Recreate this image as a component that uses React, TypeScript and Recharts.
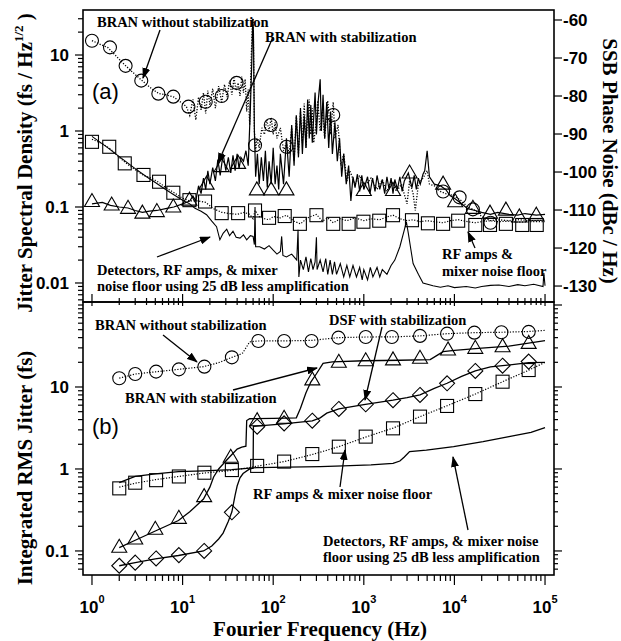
import { LineChart, Line, XAxis, YAxis } from 'recharts';

type Pt = [number, number];

// ---- panel (a): jitter spectral density (fs / Hz^1/2)
const branFreeA: Pt[] = [
  [1, 15.5], [1.2, 14], [1.5, 12.5], [1.8, 10], [2.2, 7.8], [2.7, 6.2], [3.3, 5], [4, 4.1],
  [4.7, 3.5], [5.5, 3.1], [6.5, 3.0], [8, 2.8], [9.5, 2.4], [11, 2.1], [12, 1.6], [13, 2.6],
  [14, 1.4], [15, 2.8], [16, 1.9], [17, 3.2], [18, 1.7], [19, 3.4], [20, 2.2], [21.5, 3.6],
  [23, 2.0], [25, 3.9], [27, 2.4], [29, 4.1], [31, 2.8], [33, 4.6], [35, 3.0], [37, 5.0],
  [39, 3.4], [41, 4.3], [43, 2.9], [45, 5.2], [47, 3.2], [49, 4.8], [51, 1.8], [53, 3.5],
  [55, 1.2], [57, 8], [59, 28], [60, 30], [61, 8], [62, 1.0], [64, 0.55], [66, 0.8], [70, 0.6],
  [75, 1.1], [80, 0.9], [85, 1.4], [90, 1.0], [95, 1.5], [100, 0.9], [105, 1.3], [110, 0.8],
  [120, 1.1], [130, 0.55], [140, 0.7], [150, 0.5], [160, 1.1], [170, 0.4], [180, 1.6], [190, 0.5],
  [200, 1.8], [210, 0.7], [220, 2.3], [230, 0.6], [240, 1.5], [250, 2.6], [260, 0.9], [270, 2.0],
  [280, 0.7], [300, 1.4], [310, 2.5], [330, 1.0], [350, 1.9], [370, 0.8], [400, 2.5], [430, 0.9],
  [460, 2.4], [480, 0.8], [520, 1.2], [560, 0.35], [600, 0.5], [650, 0.22], [700, 0.3], [800, 0.2],
  [900, 0.26], [1000, 0.18], [1200, 0.24], [1400, 0.17], [1600, 0.23], [1800, 0.16], [2000, 0.22],
  [2300, 0.16], [2600, 0.2], [3000, 0.11], [3200, 0.22], [3500, 0.15], [3700, 0.09], [4000, 0.2],
  [4500, 0.24], [5000, 0.3], [5300, 0.2], [6000, 0.19], [7000, 0.16], [8000, 0.15], [10000, 0.14],
  [12000, 0.12], [14000, 0.1], [17000, 0.09], [20000, 0.075], [25000, 0.066], [30000, 0.068],
  [40000, 0.066], [50000, 0.068], [70000, 0.066], [100000, 0.067],
];
const branFreeMarksA: Pt[] = [
  [1, 15.4], [1.58, 12.6], [2.35, 7.2], [3.5, 4.6], [5.4, 3.1], [7.9, 2.83], [11.6, 2.09],
  [18, 2.43], [27, 2.89], [39.5, 4.3], [63, 0.65], [94, 1.2], [140, 0.62], [460, 1.62],
  [7500, 0.16], [11400, 0.134], [16000, 0.093], [25000, 0.062],
];

const branLockedA: Pt[] = [
  [1, 0.11], [1.3, 0.115], [1.6, 0.105], [2, 0.1], [2.5, 0.097], [3, 0.09], [3.6, 0.085],
  [4.3, 0.088], [5.2, 0.09], [6.5, 0.095], [8, 0.1], [10, 0.11], [12, 0.12], [13, 0.14],
  [14, 0.12], [15, 0.19], [16, 0.15], [17, 0.24], [18, 0.17], [19, 0.3], [20, 0.2], [21.5, 0.33],
  [23, 0.22], [24.5, 0.42], [26, 0.26], [28, 0.5], [30, 0.3], [32, 0.45], [34, 0.28], [36, 0.48],
  [38, 0.3], [40, 0.5], [42, 0.32], [44, 0.45], [47, 0.4], [50, 0.55], [53, 0.35], [56, 2],
  [58, 8], [59.5, 30], [60.5, 20], [62, 1], [64, 0.25], [67, 0.5], [70, 0.2], [74, 0.45],
  [78, 0.22], [82, 0.55], [86, 0.18], [90, 0.4], [95, 0.2], [100, 0.6], [105, 0.2], [110, 0.35],
  [115, 0.17], [120, 0.5], [130, 0.2], [140, 0.8], [150, 0.25], [160, 1.2], [170, 0.35],
  [180, 1.6], [190, 0.45], [200, 2.0], [210, 0.5], [220, 1.6], [230, 0.6], [240, 2.6], [250, 0.8],
  [260, 2.2], [270, 0.7], [290, 3.2], [300, 0.9], [315, 2.6], [330, 4.8], [340, 1.0], [355, 3.0],
  [370, 0.8], [390, 2.4], [410, 0.6], [430, 1.8], [450, 0.5], [480, 1.3], [510, 0.4], [540, 0.8],
  [570, 0.25], [600, 0.5], [640, 0.2], [680, 0.35], [720, 0.12], [760, 0.25], [800, 0.18],
  [850, 0.27], [900, 0.16], [950, 0.26], [1000, 0.17], [1100, 0.25], [1170, 0.15], [1250, 0.24],
  [1330, 0.16], [1400, 0.26], [1500, 0.17], [1600, 0.23], [1700, 0.15], [1800, 0.25],
  [1900, 0.17], [2000, 0.24], [2100, 0.15], [2200, 0.23], [2350, 0.17], [2500, 0.25],
  [2650, 0.16], [2800, 0.22], [3100, 0.28], [3400, 0.18], [3600, 0.26], [3800, 0.17],
  [4000, 0.24], [4200, 0.2], [4500, 0.27], [4700, 0.3], [5000, 0.55], [5300, 0.25], [6000, 0.2],
  [7000, 0.19], [8000, 0.17], [9000, 0.14], [10000, 0.13], [12000, 0.11], [14000, 0.095],
  [17000, 0.09], [20000, 0.085], [25000, 0.08], [30000, 0.085], [40000, 0.08], [50000, 0.078],
  [60000, 0.082], [80000, 0.078], [100000, 0.08],
];
const branLockedMarksA: Pt[] = [
  [1, 0.118], [1.65, 0.106], [2.5, 0.096], [3.6, 0.083], [5.2, 0.087], [7.9, 0.1], [11.9, 0.123],
  [18.4, 0.2], [27, 0.34], [41, 0.375], [66, 0.168], [95, 0.168], [140, 0.168], [1000, 0.165],
  [2100, 0.165], [3200, 0.28], [7500, 0.2], [10200, 0.117], [16000, 0.096], [24700, 0.083],
  [37000, 0.091], [52000, 0.074], [80000, 0.078],
];

const rfFloorA: Pt[] = [
  [1, 0.78], [1.3, 0.68], [1.6, 0.58], [2, 0.45], [2.5, 0.36], [3, 0.31], [3.7, 0.26], [4.5, 0.24],
  [5.5, 0.21], [6.5, 0.18], [8, 0.155], [10, 0.13], [12, 0.12], [15, 0.12], [18, 0.115],
  [22, 0.095], [27, 0.085], [33, 0.082], [40, 0.08], [48, 0.085], [55, 0.08], [60, 0.07],
  [63, 0.09], [70, 0.075], [80, 0.07], [90, 0.068], [100, 0.075], [120, 0.072], [140, 0.078],
  [170, 0.065], [200, 0.06], [240, 0.072], [300, 0.08], [350, 0.065], [400, 0.072], [460, 0.062],
  [550, 0.07], [650, 0.066], [800, 0.072], [1000, 0.066], [1200, 0.07], [1500, 0.068],
  [1800, 0.074], [2100, 0.078], [2500, 0.07], [3000, 0.066], [3500, 0.068], [4200, 0.064],
  [5000, 0.066], [6000, 0.064], [7500, 0.062], [9000, 0.066], [11000, 0.068], [14000, 0.064],
  [17000, 0.062], [20000, 0.064], [25000, 0.066], [30000, 0.064], [40000, 0.065], [50000, 0.063],
  [70000, 0.064], [100000, 0.064],
];
const rfFloorMarksA: Pt[] = [
  [1, 0.72], [1.55, 0.62], [2.3, 0.375], [3.7, 0.264], [5.5, 0.215], [7.9, 0.154], [11.9, 0.123],
  [17.7, 0.118], [27, 0.083], [41, 0.083], [63, 0.09], [90, 0.072], [134, 0.076], [197, 0.06],
  [300, 0.078], [460, 0.06], [680, 0.06], [990, 0.064], [1480, 0.066], [2100, 0.078],
  [3400, 0.067], [5100, 0.061], [7500, 0.06], [11000, 0.066], [17000, 0.058], [24700, 0.058],
  [37000, 0.06], [56000, 0.058], [81000, 0.058],
];

const detFloorA: Pt[] = [
  [1, 0.85], [1.5, 0.6], [2, 0.46], [3, 0.32], [4, 0.25], [5, 0.21], [6.5, 0.17], [8, 0.145],
  [10, 0.123], [12, 0.11], [13.7, 0.096], [16, 0.088], [18.4, 0.079], [21, 0.065], [23.7, 0.055],
  [25.8, 0.037], [28, 0.045], [30.7, 0.051], [33, 0.042], [36, 0.048], [39, 0.04], [43, 0.039],
  [47, 0.043], [51, 0.037], [56, 0.042], [60, 0.041], [62, 0.032], [63, 0.1], [64, 0.03],
  [71, 0.03], [80, 0.028], [90, 0.031], [100, 0.027], [110, 0.024], [120, 0.026], [124, 0.041],
  [128, 0.023], [140, 0.022], [160, 0.024], [182, 0.02], [188, 0.05], [192, 0.012], [200, 0.02],
  [215, 0.015], [230, 0.022], [245, 0.014], [260, 0.021], [275, 0.015], [290, 0.019], [300, 0.04],
  [305, 0.015], [330, 0.02], [355, 0.014], [380, 0.021], [400, 0.013], [425, 0.02], [450, 0.013],
  [475, 0.019], [500, 0.013], [550, 0.018], [600, 0.012], [650, 0.017], [700, 0.012],
  [760, 0.017], [830, 0.012], [900, 0.016], [960, 0.011], [1000, 0.015], [1100, 0.011],
  [1180, 0.016], [1260, 0.012], [1400, 0.016], [1500, 0.012], [1600, 0.015], [1800, 0.013],
  [2000, 0.017], [2200, 0.02], [2500, 0.03], [2800, 0.05], [2950, 0.064], [3100, 0.045],
  [3300, 0.028], [3500, 0.018], [4000, 0.013], [4500, 0.01], [5800, 0.0092], [7000, 0.0088],
  [8500, 0.0092], [10000, 0.0087], [13500, 0.009], [17000, 0.0086], [20000, 0.009],
  [25000, 0.0093], [31000, 0.0094], [40000, 0.009], [50000, 0.0095], [60000, 0.0092],
  [75000, 0.0096], [95000, 0.009], [97000, 0.0135], [100000, 0.0092],
];

// ---- panel (b): integrated rms jitter (fs)
const branFreeB: Pt[] = [
  [2, 12.8], [3, 14.4], [5, 15.3], [9, 16.4], [17, 17.7], [25, 19.8], [35, 23], [43, 25],
  [46, 26], [51, 31], [55, 35.5], [68, 36.4], [130, 36.5], [265, 37], [525, 40], [1050, 40.7],
  [2040, 40.8], [4170, 42], [8300, 44.7], [16600, 46], [33000, 46.5], [66000, 47.5], [100000, 49],
];
const branFreeMarksB: Pt[] = [
  [2, 12.8], [3, 14.4], [5.1, 15.4], [9.1, 16.4], [17.4, 17.7], [35, 23], [68.5, 36.4],
  [132, 36.4], [265, 36.4], [525, 40], [1050, 40.7], [2040, 40.7], [4170, 42], [8300, 44.7],
  [16600, 46], [33000, 46.5], [66000, 47],
];

const branLockedB: Pt[] = [
  [2, 0.11], [3, 0.135], [5, 0.175], [9, 0.235], [12, 0.3], [17, 0.43], [20, 0.6], [22, 0.8],
  [25, 1.0], [30, 1.25], [35, 1.5], [40, 1.75], [45, 1.85], [50, 1.9], [51, 3.9], [55, 4.1],
  [100, 4.15], [180, 4.2], [200, 5.5], [230, 8.5], [260, 11.5], [300, 14.5], [355, 19.4],
  [450, 20.2], [1000, 20.9], [2500, 21.2], [5400, 21.6], [6500, 24.5], [7500, 27], [10000, 28],
  [20000, 29.8], [40000, 31.5], [100000, 36.7],
];
const branLockedMarksB: Pt[] = [
  [2, 0.111], [3, 0.14], [5, 0.184], [9.1, 0.25], [17.3, 0.46], [34, 1.39], [66.5, 3.88],
  [132, 4.15], [270, 12.2], [530, 20], [1050, 20.9], [2100, 21.4], [4170, 22.4], [8500, 28.3],
  [17000, 29.6], [34000, 31], [66000, 34],
];

const dsfB: Pt[] = [
  [2, 0.066], [3, 0.072], [5, 0.08], [9, 0.088], [17, 0.1], [21, 0.115], [25, 0.14], [28, 0.165],
  [32, 0.23], [35, 0.3], [38, 0.48], [40, 0.62], [43, 0.78], [46.5, 0.88], [55, 1.0], [60, 1.02],
  [60.5, 3.3], [70, 3.35], [130, 3.55], [270, 3.85], [330, 4.2], [390, 4.8], [530, 5.4],
  [1000, 6.1], [2100, 6.9], [3000, 7.4], [4170, 8], [6000, 9.6], [8300, 11.1], [12000, 13.5],
  [17000, 15.7], [25000, 17.6], [34000, 18.2], [66000, 19.8], [100000, 20],
];
const dsfMarksB: Pt[] = [
  [2, 0.066], [3, 0.072], [5.1, 0.081], [9.1, 0.089], [17.3, 0.1], [35, 0.296], [66.5, 3.28],
  [132, 3.6], [270, 3.88], [530, 5.4], [1050, 6.15], [2100, 6.9], [4170, 8.0], [8300, 11.1],
  [17000, 15.7], [34000, 18.2], [66000, 20.4],
];

const rfFloorB: Pt[] = [
  [2, 0.6], [3, 0.67], [5, 0.74], [9, 0.81], [17, 0.89], [35, 0.96], [66, 1.08], [132, 1.23],
  [270, 1.5], [530, 1.87], [1050, 2.45], [2100, 3.15], [4170, 4.35], [8300, 5.9], [17000, 8.2],
  [34000, 11.6], [66000, 16], [100000, 20],
];
const rfFloorMarksB: Pt[] = [
  [2, 0.58], [3, 0.68], [5.1, 0.73], [9.1, 0.81], [17.4, 0.9], [35, 0.97], [66.5, 1.09],
  [132, 1.23], [270, 1.52], [530, 1.87], [1050, 2.48], [2100, 3.13], [4170, 4.35], [8300, 5.87],
  [17000, 8.2], [34000, 11.6], [66000, 16.1],
];

const detFloorB: Pt[] = [
  [2, 0.68], [3, 0.81], [5, 0.87], [9, 0.93], [17, 0.95], [35, 0.98], [66, 1.04], [330, 1.07],
  [590, 1.09], [1200, 1.12], [2100, 1.17], [2500, 1.25], [2800, 1.4], [3200, 1.63], [4900, 1.7],
  [9800, 1.87], [20700, 2.15], [40000, 2.48], [70000, 2.8], [100000, 3.19],
];

// ---- axes
const xDecades = [1, 10, 100, 1000, 10000, 100000];
const xExponents = ['0', '1', '2', '3', '4', '5'];
const yDecadesA = [0.01, 0.1, 1, 10];
const yLabelsA = ['0.01', '0.1', '1', '10'];
const dbTicks = [-60, -70, -80, -90, -100, -110, -120, -130];
const yDecadesB = [0.1, 1, 10];
const yLabelsB = ['0.1', '1', '10'];
const mantissas = [2, 3, 4, 5, 6, 7, 8, 9];

const X_DOMAIN: [number, number] = [0.796, 125600];
const YA_DOMAIN: [number, number] = [0.00562, 39.1];
const DB_DOMAIN: [number, number] = [-134.2, -57.37];
const YB_DOMAIN: [number, number] = [0.0509, 108.8];

const logTicks = (decades: number[], lo: number, hi: number) => {
  const out: number[] = [];
  decades.forEach((d) => {
    out.push(d);
    mantissas.forEach((m) => out.push(m * d));
  });
  return out.filter((t) => t >= lo && t <= hi);
};
const xTicks = logTicks(xDecades, X_DOMAIN[0], X_DOMAIN[1]);
const yTicksA = logTicks([0.001, ...yDecadesA], YA_DOMAIN[0], YA_DOMAIN[1]);
const yTicksB = logTicks([0.01, ...yDecadesB, 100], YB_DOMAIN[0], YB_DOMAIN[1]);

const toRows = (pts: Pt[]) => pts.map(([f, v]) => ({ f, v }));
const findMajor = (v: number, majors: number[]) =>
  majors.findIndex((m) => Math.abs(v / m - 1) < 1e-6);

const SANS = 'Liberation Sans, Arial, sans-serif';
const SERIF = 'Liberation Serif, Times New Roman, serif';

// tick renderers: tickSize/tickMargin are 0, so x/y sit on the plot edge
const XTickA = ({ x, y, payload }: any) => {
  const major = findMajor(payload.value, xDecades) >= 0;
  return (
    <line x1={x} x2={x} y1={y - (major ? 8 : 4)} y2={y + (major ? 4 : 3)} stroke="#000" strokeWidth={1.2} />
  );
};
const XTickB = ({ x, y, payload }: any) => {
  const i = findMajor(payload.value, xDecades);
  return (
    <g>
      <line x1={x} x2={x} y1={y} y2={y + (i >= 0 ? 10 : 6)} stroke="#000" strokeWidth={1.2} />
      {i >= 0 && (
        <text x={x} y={y + 38} textAnchor="middle" fontFamily={SANS} fontWeight="bold" fontSize={17}>
          10<tspan dy={-10} fontSize={11}>{xExponents[i]}</tspan>
        </text>
      )}
    </g>
  );
};
const makeLeftTick = (majors: number[], labels: string[]) => ({ x, y, payload }: any) => {
  const i = findMajor(payload.value, majors);
  return (
    <g>
      <line x1={x - (i >= 0 ? 8 : 5)} x2={x} y1={y} y2={y} stroke="#000" strokeWidth={1.2} />
      {i >= 0 && (
        <text x={x - 14} y={y + 6} textAnchor="end" fontFamily={SANS} fontWeight="bold" fontSize={17}>
          {labels[i]}
        </text>
      )}
    </g>
  );
};
const YTickA = makeLeftTick(yDecadesA, yLabelsA);
const YTickB = makeLeftTick(yDecadesB, yLabelsB);
const DbTick = ({ x, y, payload }: any) => (
  <g>
    <line x1={x} x2={x + 8} y1={y} y2={y} stroke="#000" strokeWidth={1.2} />
    <text x={x + 9} y={y + 6} textAnchor="start" fontFamily={SANS} fontWeight="bold" fontSize={17}>
      {payload.value}
    </text>
  </g>
);
const RightTickB = ({ x, y, payload }: any) => {
  const major = findMajor(payload.value, [0.1, 1, 10, 100]) >= 0;
  return <line x1={x} x2={x + (major ? 8 : 4)} y1={y} y2={y} stroke="#000" strokeWidth={1.2} />;
};

// open markers
const marker = (shape: 'circle' | 'square' | 'triangle' | 'diamond') => (p: any) => {
  const { cx, cy, index } = p;
  const common = { fill: 'none', stroke: '#000', strokeWidth: 1.1 };
  if (cx == null || cy == null) return <g key={index} />;
  if (shape === 'circle') return <circle key={index} cx={cx} cy={cy} r={6.5} {...common} />;
  if (shape === 'square') return <rect key={index} x={cx - 6.5} y={cy - 6.5} width={13} height={13} {...common} />;
  if (shape === 'triangle')
    return <polygon key={index} points={`${cx},${cy - 8} ${cx - 7.5},${cy + 5} ${cx + 7.5},${cy + 5}`} {...common} />;
  return <polygon key={index} points={`${cx},${cy - 7.5} ${cx + 7.5},${cy} ${cx},${cy + 7.5} ${cx - 7.5},${cy}`} {...common} />;
};

const trace = (key: string, pts: Pt[], dotted: boolean, width = 1, yAxisId = 'l') => (
  <Line
    key={key}
    yAxisId={yAxisId}
    data={toRows(pts)}
    dataKey="v"
    type="linear"
    stroke="#000"
    strokeWidth={width}
    strokeDasharray={dotted ? '1.2 1.6' : undefined}
    dot={false}
    activeDot={false}
    isAnimationActive={false}
  />
);
const marks = (key: string, pts: Pt[], shape: 'circle' | 'square' | 'triangle' | 'diamond') => (
  <Line
    key={key}
    yAxisId="l"
    data={toRows(pts)}
    dataKey="v"
    stroke="none"
    dot={marker(shape)}
    activeDot={false}
    isAnimationActive={false}
  />
);

const Arrow = ({ x1, y1, x2, y2 }: { x1: number; y1: number; x2: number; y2: number }) => (
  <line x1={x1} y1={y1} x2={x2} y2={y2} stroke="#000" strokeWidth={1.3} markerEnd="url(#head)" />
);

const Note = ({ x, y, children }: any) => (
  <text x={x} y={y} fontFamily={SERIF} fontWeight="bold" fontSize={14.5}>
    {children}
  </text>
);

const Overlay = () => (
  <svg width={621} height={641} style={{ position: 'absolute', left: 0, top: 0, pointerEvents: 'none' }}>
    <defs>
      <marker id="head" markerUnits="userSpaceOnUse" markerWidth={11} markerHeight={8} refX={10} refY={4} orient="auto">
        <path d="M0,0 L11,4 L0,8 z" fill="#000" />
      </marker>
    </defs>
    <rect x={83} y={10} width={471} height={292} fill="none" stroke="#000" strokeWidth={1.6} />
    <rect x={83} y={302} width={471} height={273} fill="none" stroke="#000" strokeWidth={1.6} />

    <text transform="translate(32,163) rotate(-90)" textAnchor="middle" fontFamily={SERIF} fontWeight="bold" fontSize={21}>
      Jitter Spectral Density (fs / Hz<tspan dy={-9} fontSize={13}>1/2</tspan>
      <tspan dy={9}> )</tspan>
    </text>
    <text transform="translate(32,468) rotate(-90)" textAnchor="middle" fontFamily={SERIF} fontWeight="bold" fontSize={21}>
      Integrated RMS Jitter (fs)
    </text>
    <text transform="translate(603,161) rotate(90)" textAnchor="middle" fontFamily={SERIF} fontWeight="bold" fontSize={21}>
      SSB Phase Noise (dBc / Hz)
    </text>
    <text x={320} y={636} textAnchor="middle" fontFamily={SERIF} fontWeight="bold" fontSize={21}>
      Fourier Frequency (Hz)
    </text>

    <text x={92} y={99} fontFamily={SANS} fontSize={22}>(a)</text>
    <Note x={97} y={27}>BRAN without stabilization</Note>
    <Note x={265} y={42}>BRAN with stabilization</Note>
    <Note x={97} y={275}>Detectors, RF amps, &amp; mixer</Note>
    <Note x={97} y={291}>noise floor using 25 dB less amplification</Note>
    <Note x={442} y={259}>RF amps &amp;</Note>
    <Note x={442} y={276}>mixer noise floor</Note>
    <Arrow x1={160} y1={30} x2={143} y2={78} />
    <Arrow x1={273} y1={37} x2={218} y2={163} />
    <Arrow x1={157} y1={257} x2={210} y2={237} />
    <Arrow x1={475} y1={248} x2={468} y2={232} />

    <text x={92} y={434} fontFamily={SANS} fontSize={22}>(b)</text>
    <Note x={95} y={330}>BRAN without stabilization</Note>
    <Note x={125} y={403}>BRAN with stabilization</Note>
    <Note x={329} y={325}>DSF with stabilization</Note>
    <Note x={253} y={499}>RF amps &amp; mixer noise floor</Note>
    <Note x={323} y={546}>Detectors, RF amps, &amp; mixer noise</Note>
    <Note x={323} y={562}>floor using 25 dB less amplification</Note>
    <Arrow x1={163} y1={335} x2={197} y2={362} />
    <Arrow x1={233} y1={390} x2={317} y2={368} />
    <Arrow x1={382} y1={327} x2={365} y2={400} />
    <Arrow x1={340} y1={487} x2={345} y2={450} />
    <Arrow x1={468} y1={530} x2={453} y2={457} />
  </svg>
);

export default function App() {
  return (
    <div style={{ position: 'absolute', left: 0, top: 0, width: 621, height: 641, background: '#fff' }}>
      <div style={{ position: 'absolute', left: 0, top: 0 }}>
        <LineChart width={621} height={310} margin={{ top: 10, right: 0, bottom: 0, left: 0 }}>
          <XAxis
            dataKey="f"
            type="number"
            scale="log"
            domain={X_DOMAIN}
            allowDataOverflow
            ticks={xTicks}
            interval={0}
            height={8}
            tickSize={0}
            tickMargin={0}
            axisLine={false}
            tickLine={false}
            tick={<XTickA />}
          />
          <YAxis
            yAxisId="l"
            type="number"
            scale="log"
            domain={YA_DOMAIN}
            allowDataOverflow
            ticks={yTicksA}
            interval={0}
            width={83}
            tickSize={0}
            tickMargin={0}
            axisLine={false}
            tickLine={false}
            tick={<YTickA />}
          />
          <YAxis
            yAxisId="db"
            orientation="right"
            type="number"
            domain={DB_DOMAIN}
            allowDataOverflow
            ticks={dbTicks}
            interval={0}
            width={67}
            tickSize={0}
            tickMargin={0}
            axisLine={false}
            tickLine={false}
            tick={<DbTick />}
          />
          {trace('detA', detFloorA, false, 1.1)}
          {trace('rfA', rfFloorA, true, 1.2)}
          {trace('lockA', branLockedA, false, 1.2)}
          {trace('freeA', branFreeA, true, 1.3)}
          {marks('rfAm', rfFloorMarksA, 'square')}
          {marks('lockAm', branLockedMarksA, 'triangle')}
          {marks('freeAm', branFreeMarksA, 'circle')}
        </LineChart>
      </div>
      <div style={{ position: 'absolute', left: 0, top: 302 }}>
        <LineChart width={621} height={339} margin={{ top: 0, right: 0, bottom: 0, left: 0 }}>
          <XAxis
            dataKey="f"
            type="number"
            scale="log"
            domain={X_DOMAIN}
            allowDataOverflow
            ticks={xTicks}
            interval={0}
            height={66}
            tickSize={0}
            tickMargin={0}
            axisLine={false}
            tickLine={false}
            tick={<XTickB />}
          />
          <YAxis
            yAxisId="l"
            type="number"
            scale="log"
            domain={YB_DOMAIN}
            allowDataOverflow
            ticks={yTicksB}
            interval={0}
            width={83}
            tickSize={0}
            tickMargin={0}
            axisLine={false}
            tickLine={false}
            tick={<YTickB />}
          />
          <YAxis
            yAxisId="r"
            orientation="right"
            type="number"
            scale="log"
            domain={YB_DOMAIN}
            allowDataOverflow
            ticks={yTicksB}
            interval={0}
            width={67}
            tickSize={0}
            tickMargin={0}
            axisLine={false}
            tickLine={false}
            tick={<RightTickB />}
          />
          {trace('detB', detFloorB, false, 1.3)}
          {trace('rfB', rfFloorB, true, 1.2)}
          {trace('dsfB', dsfB, false, 1.3)}
          {trace('lockB', branLockedB, false, 1.3)}
          {trace('freeB', branFreeB, true, 1.2)}
          {marks('rfBm', rfFloorMarksB, 'square')}
          {marks('dsfBm', dsfMarksB, 'diamond')}
          {marks('lockBm', branLockedMarksB, 'triangle')}
          {marks('freeBm', branFreeMarksB, 'circle')}
        </LineChart>
      </div>
      <Overlay />
    </div>
  );
}
